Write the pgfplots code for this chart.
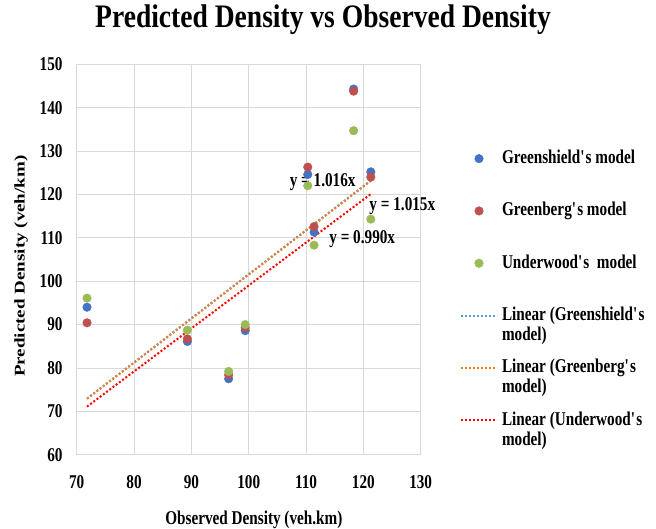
\documentclass[border=0pt]{standalone}
\usepackage{fontspec}
\setmainfont{Liberation Serif}[FakeStretch=0.78]
\newfontfamily\titlefont{Liberation Serif}[FakeStretch=0.84]
\newfontfamily\plainfont{Liberation Serif}
\usepackage{graphicx}
\usepackage{pgfplots}
\pgfplotsset{compat=1.18}
\definecolor{cblue}{RGB}{68,114,196}
\definecolor{cred}{RGB}{192,80,77}
\definecolor{cgreen}{RGB}{155,187,89}
\definecolor{lblue}{RGB}{91,155,213}
\definecolor{lorange}{RGB}{237,125,49}
\definecolor{lred}{RGB}{255,0,0}
\definecolor{gridgray}{RGB}{217,217,217}
\newcommand{\lbl}{\fontsize{19.5}{21}\selectfont\bfseries}
\newcommand{\q}{\textquotesingle}
\newcommand{\second}[1]{\makebox[0pt][l]{\raisebox{-20pt}[0pt][0pt]{#1}}}
\begin{document}
\begin{tikzpicture}
\useasboundingbox (0,0) rectangle (656pt,529pt);
\begin{axis}[
  at={(76.7pt,74.3pt)}, anchor=south west,
  scale only axis, width=344pt, height=390.4pt,
  xmin=70, xmax=130, ymin=60, ymax=150,
  clip=false,
  xtick={70,80,...,130}, ytick={60,70,...,150},
  grid=major, major grid style={gridgray, line width=0.8pt},
  axis line style={gridgray, line width=0.8pt},
  tick style={draw=none},
  /pgf/number format/assume math mode=true,
  tick label style={font=\lbl, inner sep=0pt},
  xticklabel style={anchor=north, yshift=-21pt},
  yticklabel style={anchor=east, xshift=-14pt},
  xlabel={Observed Density (veh.km)},
  xlabel style={font=\lbl, at={(axis description cs:0.515,0)}, anchor=base, yshift=-70.3pt, inner sep=0pt},
  ylabel={\scalebox{1}[0.78]{\plainfont\fontsize{19}{21}\selectfont\bfseries Predicted Density (veh/km)}},
  ylabel style={at={(axis description cs:-0.162,0.483)}, anchor=center, rotate=0, inner sep=0pt},
  title={\titlefont\fontsize{32.8}{34}\selectfont\bfseries Predicted Density vs Observed Density},
  title style={at={(axis description cs:0.716,1)}, anchor=base, yshift=31pt, inner sep=0pt},
  legend image code/.code={\draw[mark repeat=2,mark phase=2] plot coordinates {(0pt,0pt) (18pt,0pt) (36pt,0pt)};},
  legend style={at={(axis description cs:1.105,0.787)}, anchor=north west, draw=none, fill=none,
    row sep=34.3pt, column sep=4pt,
    nodes={font=\lbl, inner sep=0pt, text height=14pt, text depth=4pt}},
  legend cell align=left,
]
\addplot[only marks, mark=*, mark size=4.3pt, mark options={draw=cblue, fill=cblue}] coordinates {
 (71.8,94.0) (89.3,86.1) (96.5,77.5) (99.4,88.6) (110.3,124.6) (111.4,111.3) (118.3,144.3) (121.3,125.2)};
\addlegendentry{Greenshield\q s model}
\addplot[only marks, mark=*, mark size=4.3pt, mark options={draw=cred, fill=cred}] coordinates {
 (71.8,90.4) (89.3,86.7) (96.5,78.4) (99.4,89.3) (110.3,126.3) (111.4,112.6) (118.3,143.8) (121.3,124.0)};
\addlegendentry{Greenberg\q s model}
\addplot[only marks, mark=*, mark size=4.3pt, mark options={draw=cgreen, fill=cgreen}] coordinates {
 (71.8,96.1) (89.3,88.7) (96.5,79.2) (99.4,90.0) (110.3,122.0) (111.4,108.3) (118.3,134.7) (121.3,114.3)};
\addlegendentry{Underwood\q s\ \ model}
\addplot[lblue, line width=2pt, dash pattern=on 2pt off 2pt] coordinates {(71.8,72.95) (121.3,123.24)};
\addlegendentry{\second{model)}Linear (Greenshield\q s}
\addplot[lorange, line width=2pt, dash pattern=on 2pt off 2pt] coordinates {(71.8,72.88) (121.3,123.12)};
\addlegendentry{\second{model)}Linear (Greenberg\q s}
\addplot[lred, line width=2pt, dash pattern=on 2pt off 2pt] coordinates {(71.8,71.08) (121.3,120.09)};
\addlegendentry{\second{model)}Linear (Underwood\q s}
\node[font=\lbl] at (axis cs:112.9,122.9) {y = 1.016x};
\node[font=\lbl] at (axis cs:126.8,117.3) {y = 1.015x};
\node[font=\lbl] at (axis cs:119.8,109.6) {y = 0.990x};
\end{axis}
\end{tikzpicture}
\end{document}
